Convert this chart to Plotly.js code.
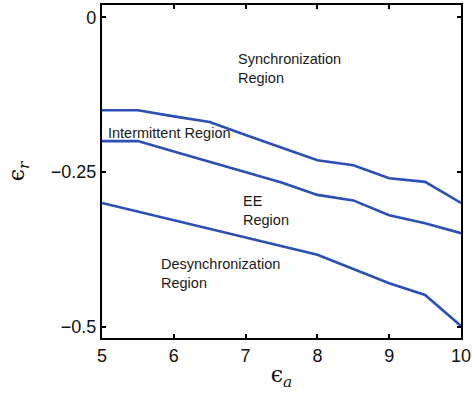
<!DOCTYPE html>
<html><head><meta charset="utf-8">
<script src="https://cdn.plot.ly/plotly-3.0.1.min.js"></script>
<style>html,body{margin:0;padding:0;background:#fff}#plot{width:472px;height:399px}</style>
</head><body><div id="plot"></div>
<script>
const epsA = [5, 5.5, 6, 6.5, 7, 7.5, 8, 8.5, 9, 9.5, 10];
const syncBoundary = [-0.15, -0.15, -0.16, -0.169, -0.19, -0.21, -0.231, -0.239, -0.26, -0.266, -0.30];
const intermittentBoundary = [-0.20, -0.20, -0.217, -0.234, -0.25, -0.267, -0.287, -0.296, -0.32, -0.333, -0.349];
const desyncBoundary = [-0.30, -0.314, -0.328, -0.342, -0.356, -0.37, -0.384, -0.407, -0.43, -0.449, -0.499];
const xTicks = [5, 6, 7, 8, 9, 10];
const yTicks = [0, -0.25, -0.5];
const yTickText = ['0', '\u22120.25', '\u22120.5'];
const regionLabels = ['Synchronization<br>Region', 'Intermittent Region', 'EE<br>Region', 'Desynchronization<br>Region'];
const regionX = [6.86, 5.05, 6.94, 5.79];
const regionY = [-0.082, -0.187, -0.313, -0.414];

const lineStyle = {color: '#2b4fb5', width: 2.6};
const traces = [syncBoundary, intermittentBoundary, desyncBoundary].map(y => ({
  x: epsA, y: y, type: 'scatter', mode: 'lines', line: lineStyle, hoverinfo: 'skip'
}));

const annotations = regionLabels.map((t, i) => ({
  x: regionX[i], y: regionY[i], xref: 'x', yref: 'y', text: t, showarrow: false,
  xanchor: 'left', yanchor: 'middle', align: 'left',
  font: {family: 'Liberation Sans, Arial, sans-serif', size: 14.5, color: '#1a1a1a'}
}));

const axisCommon = {
  showline: true, linecolor: '#000', linewidth: 2.2, mirror: 'ticks',
  ticks: 'inside', ticklen: 4, tickwidth: 2, tickcolor: '#000',
  showgrid: false, zeroline: false,
  tickfont: {family: 'Liberation Sans, Arial, sans-serif', size: 18, color: '#111'}
};

const layout = {
  width: 472, height: 399,
  margin: {l: 102, r: 11, t: 5, b: 61},
  paper_bgcolor: '#fff', plot_bgcolor: '#fff',
  showlegend: false,
  xaxis: Object.assign({}, axisCommon, {
    range: [5, 10], tickvals: xTicks, ticktext: xTicks.map(String),
    title: {text: '\u03F5<sub><i>a</i></sub>', standoff: 2,
            font: {family: 'DejaVu Serif, serif', size: 22, color: '#111'}}
  }),
  yaxis: Object.assign({}, axisCommon, {
    range: [-0.5186, 0.0202], tickvals: yTicks, ticktext: yTickText,
    title: {text: '\u03F5<sub><i>r</i></sub>', standoff: 20,
            font: {family: 'DejaVu Serif, serif', size: 22, color: '#111'}}
  }),
  annotations: annotations
};

Plotly.newPlot('plot', traces, layout, {displayModeBar: false, staticPlot: true});
</script></body></html>
